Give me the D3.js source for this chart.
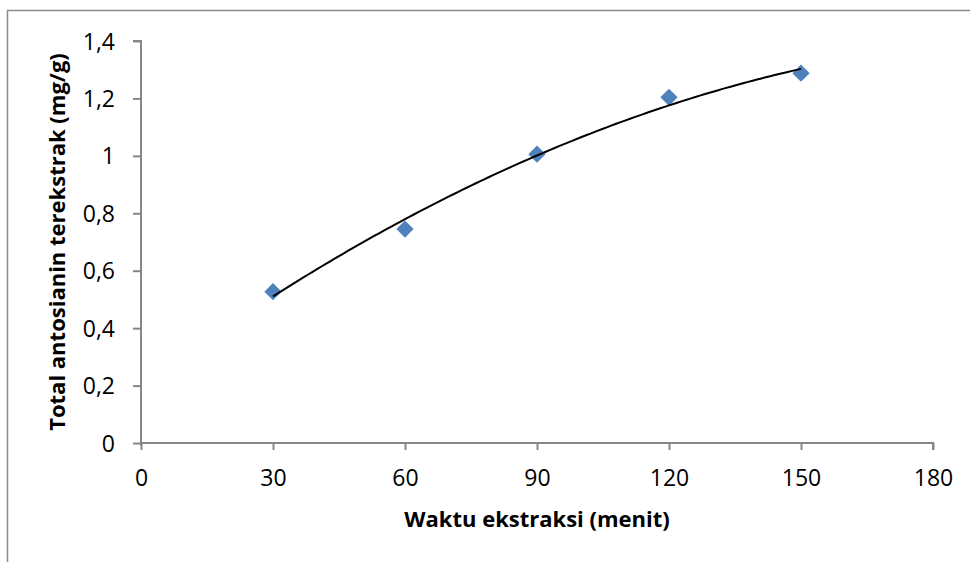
<!DOCTYPE html>
<html>
<head>
<meta charset="utf-8">
<script src="https://cdn.jsdelivr.net/npm/d3@7"></script>
<style>
  html, body { margin: 0; padding: 0; background: #fff; }
  svg { display: block; }
  text { font-family: "Open Sans", "Noto Sans", sans-serif; fill: #000; }
</style>
</head>
<body>
<svg id="chart" width="970" height="562"></svg>
<script>
// Data
const waktu = [30, 60, 90, 120, 150];
const antosianin = [0.527, 0.745, 1.006, 1.204, 1.288];
const xTicks = [0, 30, 60, 90, 120, 150, 180];
const yTicks = [0, 0.2, 0.4, 0.6, 0.8, 1.0, 1.2, 1.4];
const xTitle = "Waktu ekstraksi (menit)";
const yTitle = "Total antosianin terekstrak (mg/g)";

const svg = d3.select("#chart");
const W = 970, H = 562;
const mLeft = 141, mRight = 933, mTop = 41, mBottom = 443;

const x = d3.scaleLinear().domain([0, 180]).range([mLeft, mRight]);
const y = d3.scaleLinear().domain([0, 1.4]).range([mBottom, mTop]);

// outer frame (left and top edges visible)
svg.append("path")
  .attr("d", `M7.5,${H} L7.5,10.5 L${W},10.5`)
  .attr("fill", "none").attr("stroke", "#8c8c8c").attr("stroke-width", 1.5);

const fmt = d => d === 0 ? "0" : (Number.isInteger(d) ? String(d) : d3.format(".1f")(d).replace(".", ","));

// x axis
const xAxis = svg.append("g").attr("transform", `translate(0,${mBottom})`)
  .call(d3.axisBottom(x).tickValues(xTicks).tickSize(7).tickPadding(20).tickFormat(d => d));
// y axis
const yAxis = svg.append("g").attr("transform", `translate(${mLeft},0)`)
  .call(d3.axisLeft(y).tickValues(yTicks).tickSize(8).tickPadding(18).tickFormat(fmt));

[xAxis, yAxis].forEach(g => {
  g.attr("font-size", null).attr("font-family", null);
  g.select(".domain").attr("stroke", "#868686").attr("stroke-width", 2);
  g.selectAll(".tick line").attr("stroke", "#868686").attr("stroke-width", 2);
  g.selectAll(".tick text").style("font-size", "23px").attr("fill", "#000");
});
xAxis.select(".domain").attr("d", `M${mLeft},0H${mRight}V7`);
yAxis.select(".domain").attr("d", `M-8,${mTop}H0V${mBottom + 3}`);
yAxis.selectAll(".tick text").attr("dy", "0.35em");

// polynomial (order 2) trendline via least squares
function polyfit2(xs, ys) {
  let n = xs.length, s = [0,0,0,0,0], t = [0,0,0];
  for (let i = 0; i < n; i++) {
    let p = 1;
    for (let k = 0; k <= 4; k++) { s[k] += p; if (k <= 2) t[k] += p * ys[i]; p *= xs[i]; }
  }
  const A = [[s[0], s[1], s[2], t[0]], [s[1], s[2], s[3], t[1]], [s[2], s[3], s[4], t[2]]];
  for (let i = 0; i < 3; i++) {
    for (let j = i + 1; j < 3; j++) {
      const f = A[j][i] / A[i][i];
      for (let k = i; k < 4; k++) A[j][k] -= f * A[i][k];
    }
  }
  const c = [0, 0, 0];
  for (let i = 2; i >= 0; i--) {
    let v = A[i][3];
    for (let k = i + 1; k < 3; k++) v -= A[i][k] * c[k];
    c[i] = v / A[i][i];
  }
  return c;
}
const coef = polyfit2(waktu, antosianin);
const trend = d3.range(30, 150.01, 1).map(v => [v, coef[0] + coef[1] * v + coef[2] * v * v]);

// markers
svg.append("g").selectAll("path").data(waktu).join("path")
  .attr("d", d3.symbol(d3.symbolDiamond2, 190))
  .attr("transform", (d, i) => `translate(${x(d)},${y(antosianin[i])})`)
  .attr("fill", "#4F81BD");

svg.append("path").datum(trend)
  .attr("d", d3.line().x(d => x(d[0])).y(d => y(d[1])))
  .attr("fill", "none").attr("stroke", "#000").attr("stroke-width", 2);

// titles
svg.append("text").attr("x", 537).attr("y", 527).attr("text-anchor", "middle")
  .style("font-size", "22px").style("font-weight", "bold").text(xTitle);
svg.append("text").attr("transform", `translate(65,242) rotate(-90)`).attr("text-anchor", "middle")
  .style("font-size", "22px").style("font-weight", "bold").text(yTitle);
</script>
</body>
</html>
